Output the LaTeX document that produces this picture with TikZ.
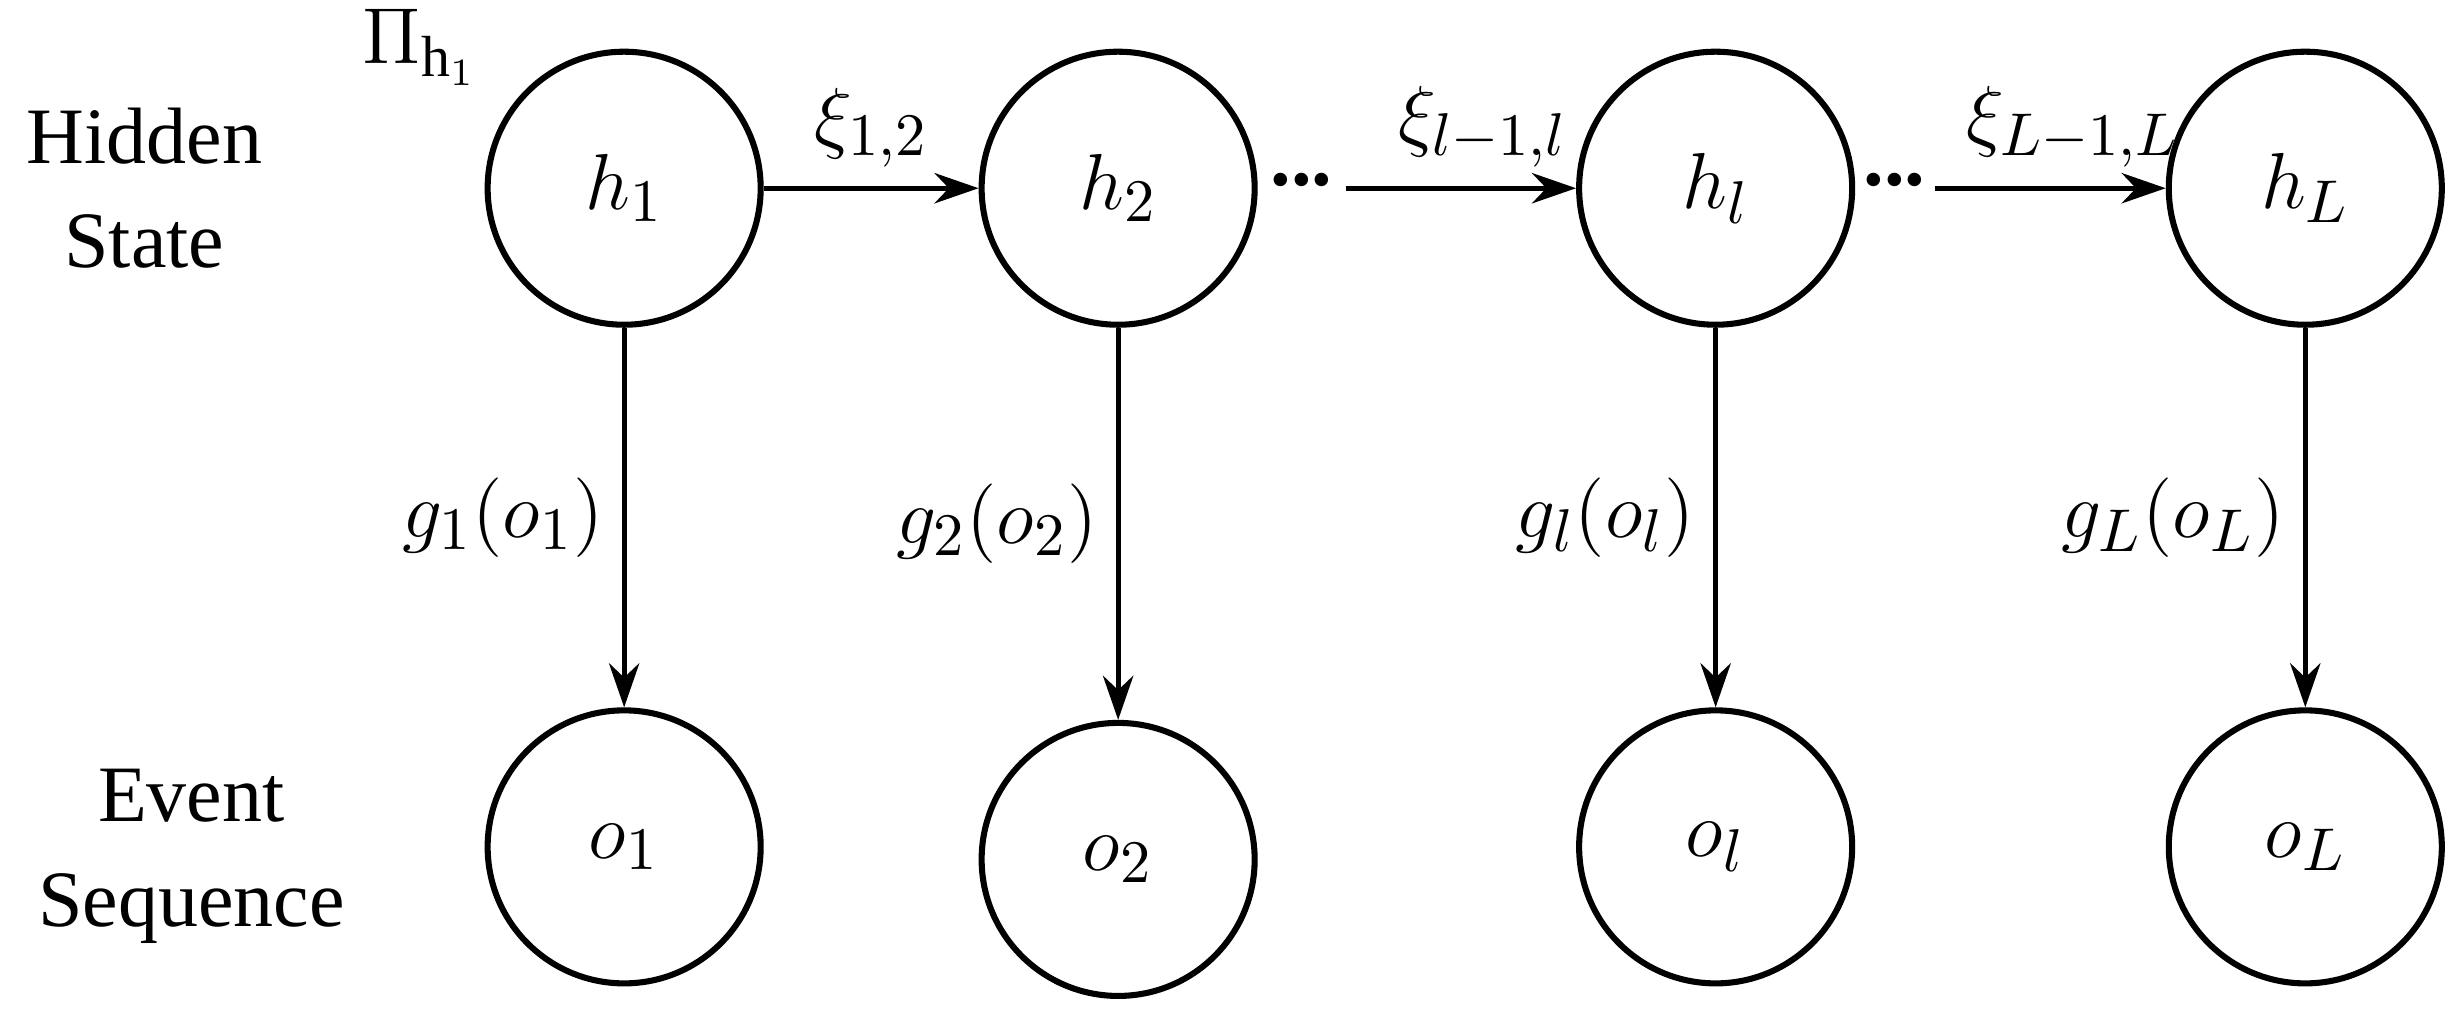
\documentclass[tikz,border=0pt]{standalone}
\usepackage{fontspec}
\setmainfont{Liberation Serif}
\usetikzlibrary{arrows.meta}
\begin{document}
\begin{tikzpicture}[x=0.01cm,y=-0.01cm,
  st/.style={circle,draw,line width=1.1pt,inner sep=0pt,minimum size=1.74cm,font=\fontsize{15}{18}\selectfont},
  ar/.style={-{Stealth[length=8pt,width=5.5pt]},line width=0.9pt},
  lb/.style={font=\fontsize{15}{18}\selectfont},
  tx/.style={font=\fontsize{14.5}{19}\selectfont,align=center}]
\useasboundingbox (0,0) rectangle (1568,650);
\node[st] (h1) at (398,120) {$h_1$};
\node[st] (h2) at (713,120) {$h_2$};
\node[st] (hl) at (1094,120) {$h_l$};
\node[st] (hL) at (1470,120) {$h_L$};
\node[st] (o1) at (398,540) {$o_1$};
\node[st] (o2) at (713,548) {$o_2$};
\node[st] (ol) at (1094,540) {$o_l$};
\node[st] (oL) at (1470,540) {$o_L$};
\node[tx] (hs) at (92,120) {Hidden\\State};
\node[tx] (es) at (122,546) {Event\\Sequence};
\node[lb] (pi) at (268,30) {$\Pi_{\mathrm{h}_1}$};
\coordinate (d1) at (858,120);
\coordinate (d2) at (1234,120);
\node[font=\fontsize{15}{18}\selectfont\bfseries,inner sep=0pt] (dt1) at (830,115) {...};
\node[font=\fontsize{15}{18}\selectfont\bfseries,inner sep=0pt] (dt2) at (1208,115) {...};
\draw[ar] (h1) -- node[lb,above] {$\xi_{1,2}$} (h2);
\draw[ar] (d1) -- node[lb,above,xshift=4] {$\xi_{l-1,l}$} (hl);
\draw[ar] (d2) -- node[lb,above,xshift=4] {$\xi_{L-1,L}$} (hL);
\draw[ar] (h1) -- node[lb,left] {$g_1(o_1)$} (o1);
\draw[ar] (h2) -- node[lb,left] {$g_2(o_2)$} (o2);
\draw[ar] (hl) -- node[lb,left] {$g_l(o_l)$} (ol);
\draw[ar] (hL) -- node[lb,left] {$g_L(o_L)$} (oL);
\end{tikzpicture}
\end{document}
